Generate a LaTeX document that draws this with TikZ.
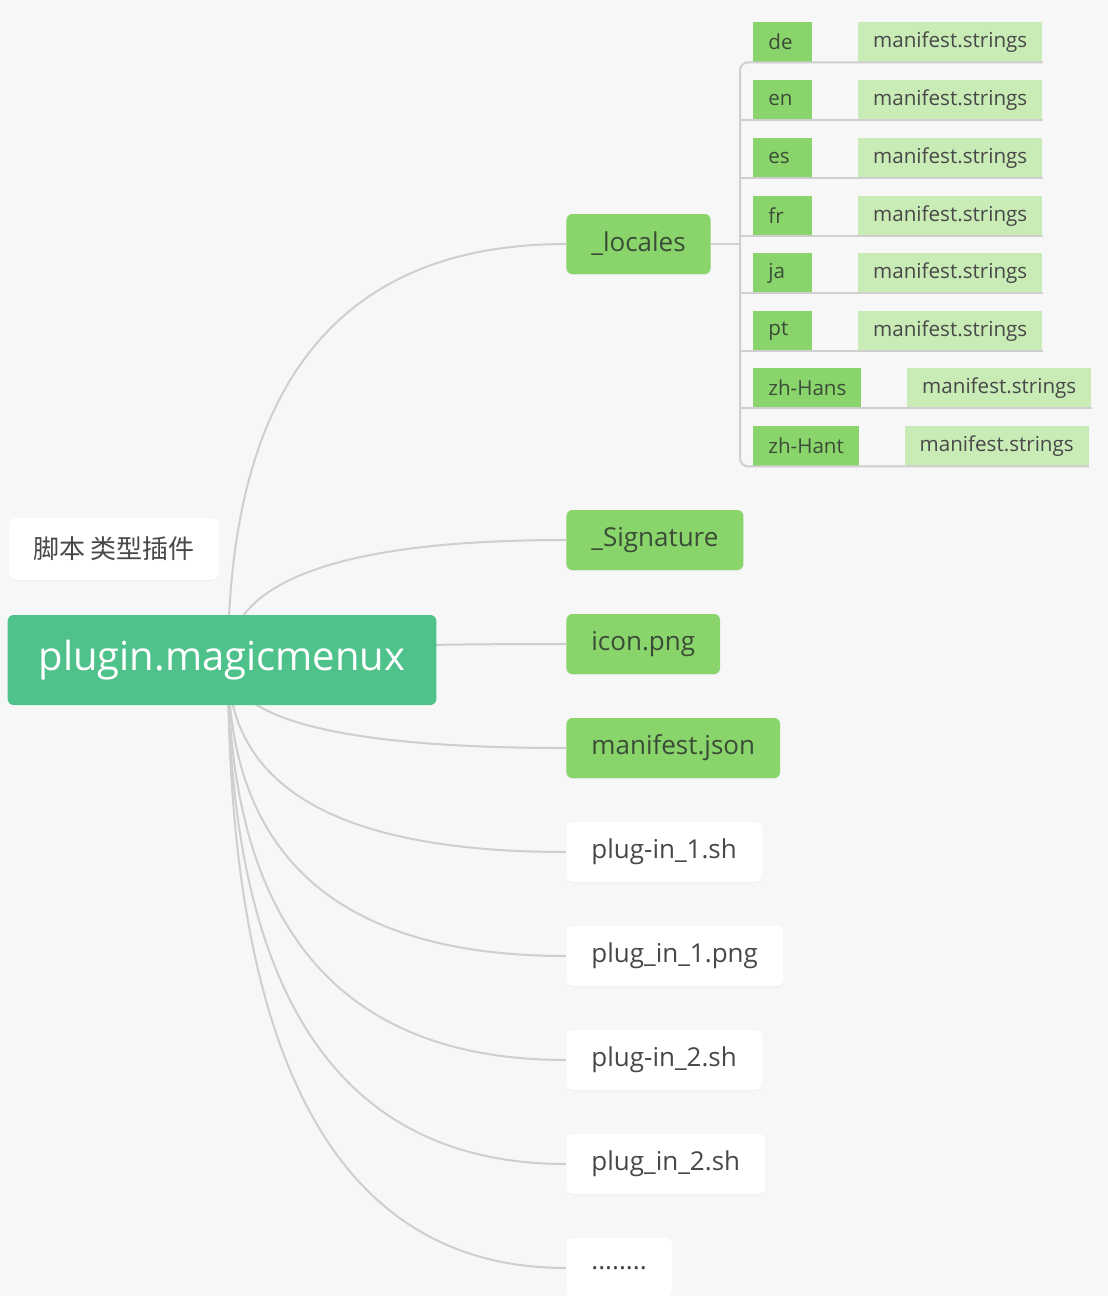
\documentclass[tikz,border=0pt]{standalone}
\usepackage{fontspec}
\setmainfont{Open Sans}
\newfontfamily\cjk{Noto Sans CJK SC}
\usetikzlibrary{positioning,shadows,calc}
\usepackage{xcolor}
\definecolor{bggray}{HTML}{F7F7F7}
\definecolor{rootgreen}{HTML}{4EC28A}
\definecolor{dirgreen}{HTML}{8AD56B}
\definecolor{palegreen}{HTML}{C9ECB6}
\definecolor{linegray}{HTML}{CFCFCF}
\definecolor{textgray}{HTML}{484848}
\definecolor{textgreen}{HTML}{3A4C37}
\pgfdeclarelayer{background}
\pgfsetlayers{background,main}

\begin{document}
\begin{tikzpicture}[x=0.5pt,y=-0.5pt,node distance=22.5pt]
  \tikzstyle{link}=[draw=linegray,line width=1pt]
  \tikzstyle{branch}=[link,to path={.. controls ($(\tikztostart)!0.667!(\tikztostart |- \tikztotarget)$) and ($(\tikztotarget)!0.667!(\tikztostart |- \tikztotarget)$) .. (\tikztotarget)}]
  \tikzstyle{rootbox}=[fill=rootgreen,text=white,rounded corners=3pt,inner xsep=15.5pt,minimum height=45pt,font=\fontsize{20}{24}\selectfont]
  \tikzstyle{tag}=[fill=white,text=textgray,rounded corners=4pt,inner xsep=12pt,minimum height=31pt,font=\fontsize{13}{16}\selectfont,drop shadow={shadow xshift=0pt,shadow yshift=-0.6pt,opacity=0.08}]
  \tikzstyle{dir}=[anchor=west,fill=dirgreen,text=textgreen,rounded corners=3pt,inner xsep=12.5pt,minimum height=30pt,font=\fontsize{13}{16}\selectfont,drop shadow={shadow xshift=0pt,shadow yshift=-0.6pt,opacity=0.08}]
  \tikzstyle{file}=[dir,fill=white,text=textgray]
  \tikzstyle{lang}=[anchor=west,fill=dirgreen,text=textgreen,inner xsep=7.5pt,minimum height=20pt,font=\fontsize{10.3}{12}\selectfont]
  \tikzstyle{short}=[text width=14.5pt,align=left]
  \tikzstyle{strs}=[fill=palegreen,text=textgray,inner xsep=7.5pt,minimum height=20pt,font=\fontsize{10.3}{12}\selectfont]

  \useasboundingbox (0,0) rectangle (1108,1296);

  % root and its label
  \node[rootbox] (R) at (222,660) {plugin.magicmenux};
  \node[tag]     (T) at (114,549) {\cjk 脚本 类型插件};

  % first level
  \node[dir]  (loc) at (566,244)  {\_locales};
  \node[dir]  (sig) at (566,540)  {\_Signature};
  \node[dir]  (ico) at (566,644)  {icon.png};
  \node[dir]  (mj)  at (566,748)  {manifest.json};
  \node[file] (p1)  at (566,852)  {plug-in\_1.sh};
  \node[file] (p2)  at (566,956)  {plug\_in\_1.png};
  \node[file] (p3)  at (566,1060) {plug-in\_2.sh};
  \node[file] (p4)  at (566,1164) {plug\_in\_2.sh};
  \node[file] (p5)  at (566,1268) {........};

  % locales
  \node[lang,short] (de)  at (753,42)  {de};
  \node[strs, right=of de]  (mde) {manifest.strings};
  \node[lang,short] (en)  at (753,100) {en};
  \node[strs, right=of en]  (men) {manifest.strings};
  \node[lang,short] (es)  at (753,158) {es};
  \node[strs, right=of es]  (mes) {manifest.strings};
  \node[lang,short] (fr)  at (753,216) {fr};
  \node[strs, right=of fr]  (mfr) {manifest.strings};
  \node[lang,short] (ja)  at (753,273) {ja};
  \node[strs, right=of ja]  (mja) {manifest.strings};
  \node[lang,short] (pt)  at (753,331) {pt};
  \node[strs, right=of pt]  (mpt) {manifest.strings};
  \node[lang]       (zhs) at (753,388) {zh-Hans};
  \node[strs, right=of zhs] (mzs) {manifest.strings};
  \node[lang]       (zht) at (753,446) {zh-Hant};
  \node[strs, right=of zht] (mzt) {manifest.strings};

  \coordinate (J) at (740,244);
  \draw[link] (loc.east) -- (J);
  \draw[link,rounded corners=4pt] (mde.south east) -- (J |- mde.south) -- (J |- mzt.south) -- (mzt.south east);
  \draw[link] (J |- men.south) -- (men.south east);
  \draw[link] (J |- mes.south) -- (mes.south east);
  \draw[link] (J |- mfr.south) -- (mfr.south east);
  \draw[link] (J |- mja.south) -- (mja.south east);
  \draw[link] (J |- mpt.south) -- (mpt.south east);
  \draw[link] (J |- mzs.south) -- (mzs.south east);

  % branches from the root
  \begin{pgfonlayer}{background}
    \fill[bggray] (0,0) rectangle (1108,1296);
    \coordinate (H) at (228,662);
    \draw[branch] (H) to (loc.west);
    \draw[branch] (H) to (sig.west);
    \draw[branch] (H) to (ico.west);
    \draw[branch] (H) to (mj.west);
    \draw[branch] (H) to (p1.west);
    \draw[branch] (H) to (p2.west);
    \draw[branch] (H) to (p3.west);
    \draw[branch] (H) to (p4.west);
    \draw[branch] (H) to (p5.west);
  \end{pgfonlayer}
\end{tikzpicture}
\end{document}
